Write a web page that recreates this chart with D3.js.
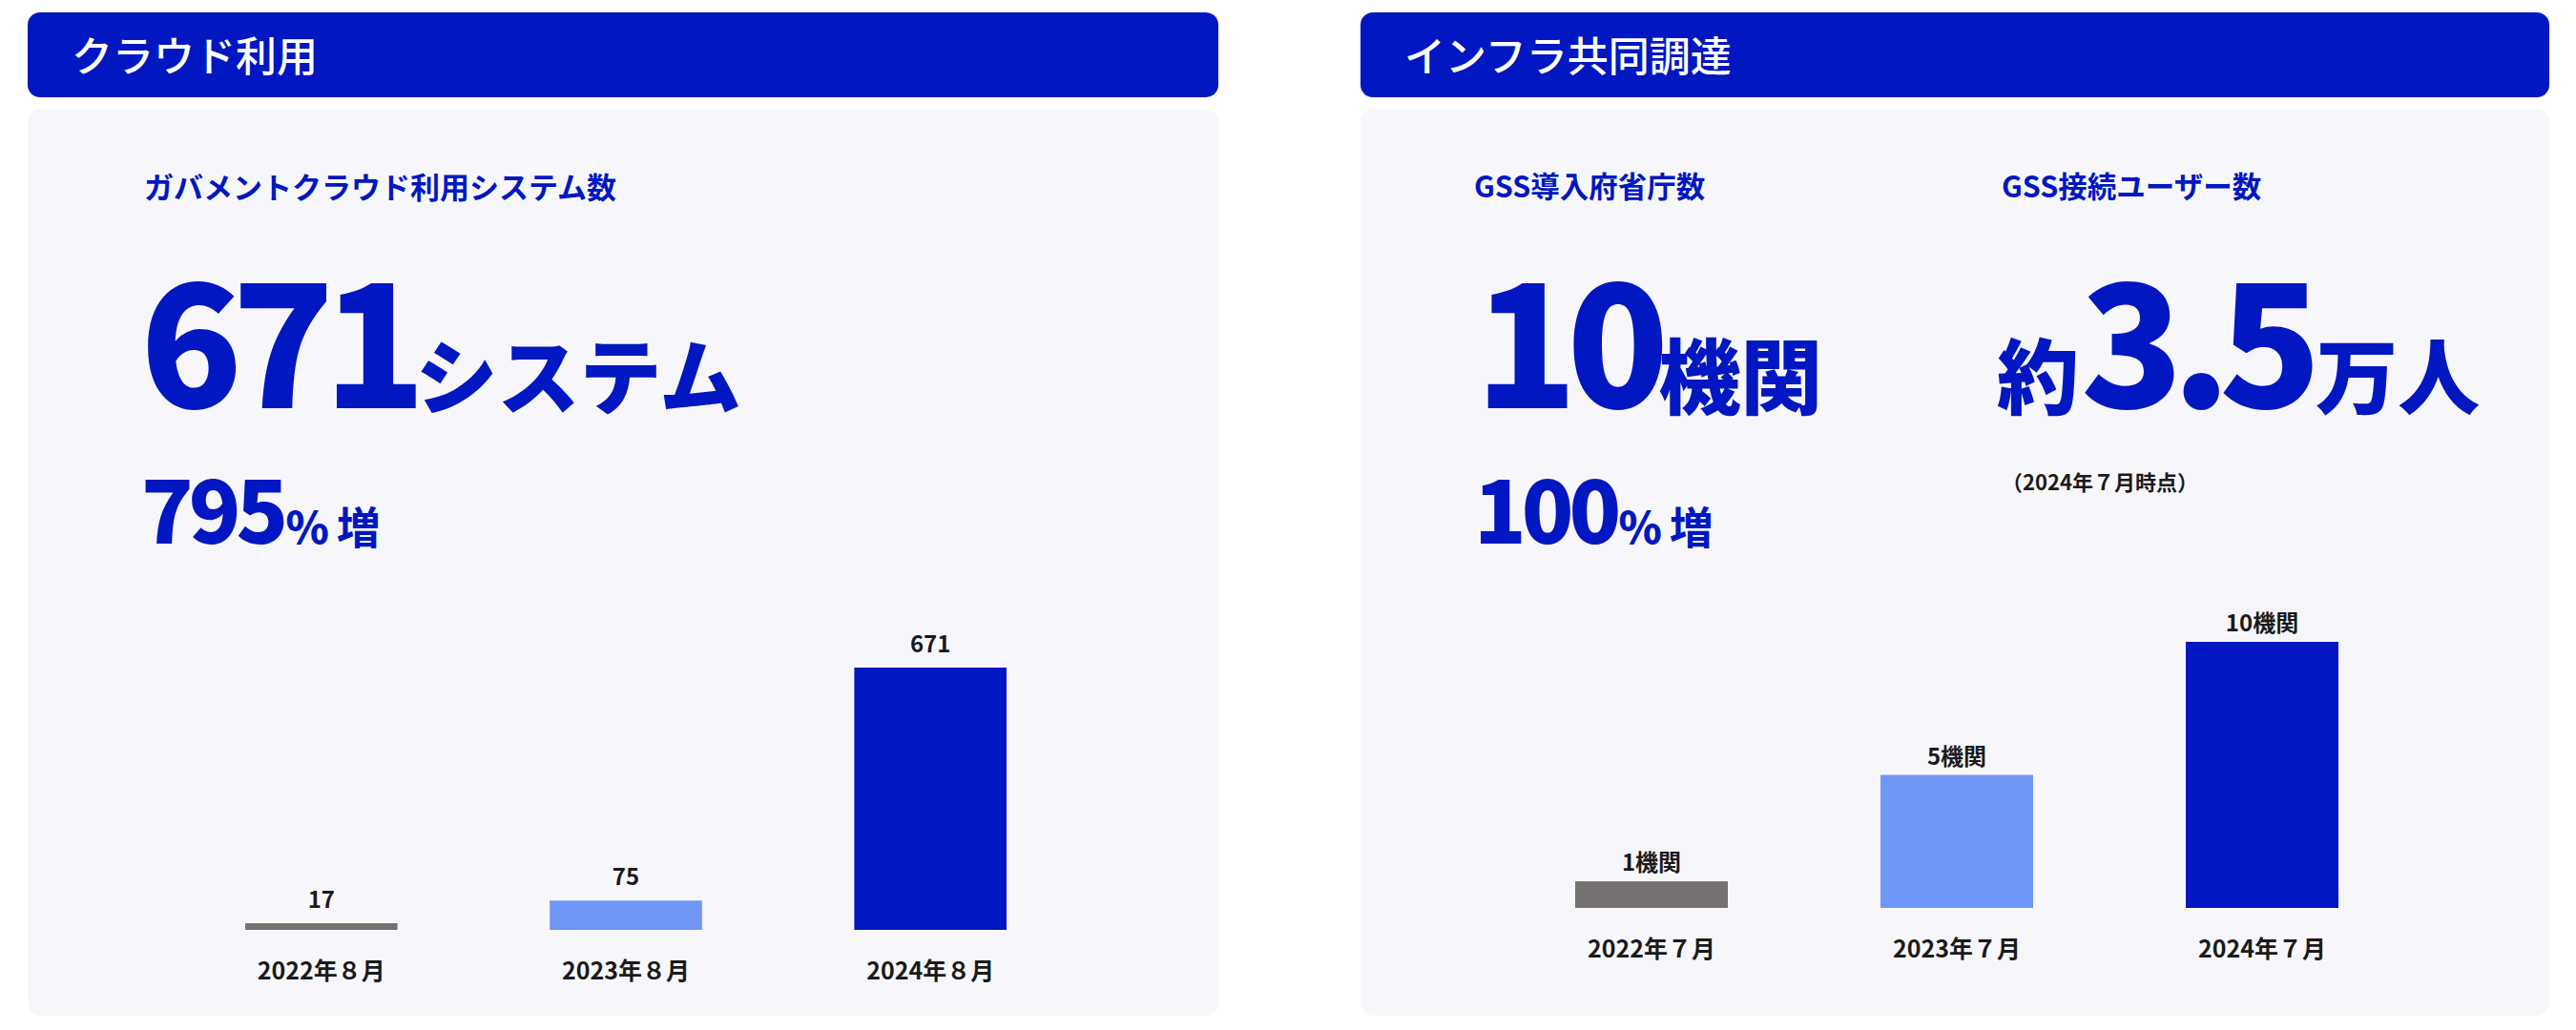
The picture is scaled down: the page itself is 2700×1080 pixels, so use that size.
<!DOCTYPE html>
<html><head><meta charset="utf-8">
<script src="https://cdn.jsdelivr.net/npm/d3@7"></script>
<style>
html,body{margin:0;padding:0;background:#fff;}
svg{display:block;}
text{font-family:"Noto Sans CJK JP","Noto Sans",sans-serif;}
</style></head>
<body>
<svg id="c" width="2700" height="1080"></svg>
<script>
// ---- data ----
const panelTitles = ["クラウド利用", "インフラ共同調達"];
const cloudSubtitle = "ガバメントクラウド利用システム数";
const cloudCategories = ["2022年８月", "2023年８月", "2024年８月"];
const cloudValues = [17, 75, 671];
const cloudHeadline = { value: "671", unit: "システム", growth: "795" };
const gssSubtitles = ["GSS導入府省庁数", "GSS接続ユーザー数"];
const gssCategories = ["2022年７月", "2023年７月", "2024年７月"];
const gssValues = [1, 5, 10];
const gssUnit = "機関";
const gssHeadline = { value: "10", unit: "機関", growth: "100" };
const userHeadline = { prefix: "約", value: "3.5", unit: "万人", note: "（2024年７月時点）" };
const barColors = ["#767171", "#7096F8", "#0017C1"];

const BLUE = "#0017C1";
const svg = d3.select("#c");
svg.append("rect").attr("width", 2700).attr("height", 1080).attr("fill", "#fff");

const panels = [{ x: 29, w: 1248 }, { x: 1426, w: 1246 }];

panels.forEach((p, i) => {
  svg.append("rect").attr("x", p.x).attr("y", 13).attr("width", p.w).attr("height", 89)
    .attr("rx", 13).attr("fill", BLUE);
  svg.append("text").attr("x", p.x + 46).attr("y", 56).attr("dominant-baseline", "central")
    .attr("fill", "#fff").attr("font-size", 43).attr("font-weight", 500).text(panelTitles[i]);
  svg.append("rect").attr("x", p.x).attr("y", 114).attr("width", p.w).attr("height", 951)
    .attr("rx", 14).attr("fill", "#F7F7FB");
});

function subtitle(x, t, fs) {
  svg.append("text").attr("x", x).attr("y", 194).attr("dominant-baseline", "central")
    .attr("fill", BLUE).attr("font-size", fs).attr("font-weight", 700).text(t);
}
function headline(x, parts) {
  const t = svg.append("text").attr("x", x).attr("y", 428).attr("fill", BLUE).attr("font-weight", 900);
  parts.forEach(pt => {
    const s = t.append("tspan").attr("font-size", pt.big ? 176 : 86).attr("dx", pt.dx || 0).text(pt.t);
    if (pt.big) s.attr("letter-spacing", pt.ls);
  });
}
function growth(x, v) {
  const t = svg.append("text").attr("x", x).attr("y", 570).attr("fill", BLUE).attr("font-weight", 900);
  t.append("tspan").attr("font-size", 90).attr("letter-spacing", -5).text(v);
  t.append("tspan").attr("font-size", 46).attr("dx", 2).text("%");
  t.append("tspan").attr("font-size", 46).attr("dx", 8).attr("font-weight", 700).text("増");
}

// Left panel text
subtitle(151, cloudSubtitle, 31);
headline(147, [{ t: cloudHeadline.value, big: true, ls: -11 }, { t: cloudHeadline.unit, dx: 0 }]);
growth(148, cloudHeadline.growth);

// Right panel text
subtitle(1545, gssSubtitles[0], 30.5);
subtitle(2098, gssSubtitles[1], 30.5);
headline(1546, [{ t: gssHeadline.value, big: true, ls: -11 }, { t: gssHeadline.unit, dx: 0 }]);
headline(2093, [{ t: userHeadline.prefix }, { t: userHeadline.value, big: true, dx: 2, ls: -12 }, { t: userHeadline.unit, dx: 6 }]);
svg.append("text").attr("x", 2098).attr("y", 504).attr("dominant-baseline", "central")
  .attr("fill", "#1A1A1A").attr("font-size", 22).attr("font-weight", 700).text(userHeadline.note);
growth(1545, gssHeadline.growth);

// ---- bar charts ----
function bars(cats, vals, xr, y0, yTop, labelFn, labelGap) {
  const x = d3.scaleBand().domain(cats).range(xr).paddingInner(0.5).paddingOuter(0);
  const y = d3.scaleLinear().domain([0, d3.max(vals)]).range([y0, yTop]);
  const g = svg.append("g");
  g.selectAll("rect").data(vals).join("rect")
    .attr("x", (d, i) => x(cats[i])).attr("width", x.bandwidth())
    .attr("y", d => y(d)).attr("height", d => y0 - y(d))
    .attr("fill", (d, i) => barColors[i]);
  g.selectAll("text.v").data(vals).join("text").attr("class", "v")
    .attr("x", (d, i) => x(cats[i]) + x.bandwidth() / 2)
    .attr("y", d => y(d) - labelGap).attr("text-anchor", "middle")
    .attr("fill", "#1A1A1A").attr("font-size", 24).attr("font-weight", 700)
    .text(labelFn);
  const ax = svg.append("g").attr("transform", `translate(0,${y0})`)
    .call(d3.axisBottom(x).tickSize(0).tickPadding(34));
  ax.select(".domain").remove();
  ax.selectAll("text").attr("fill", "#1A1A1A").attr("font-size", 25).attr("font-weight", 700)
    .attr("font-family", '"Noto Sans CJK JP", sans-serif');
}
bars(cloudCategories, cloudValues, [257, 1055], 975, 700, d => d, 16);
bars(gssCategories, gssValues, [1651, 2451], 952, 673, d => d + gssUnit, 11);
</script>
</body></html>
